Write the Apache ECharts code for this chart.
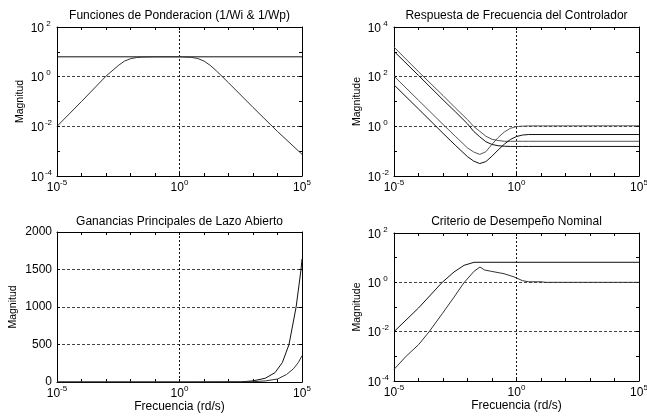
<!DOCTYPE html>
<html><head><meta charset="utf-8">
<script src="https://cdn.jsdelivr.net/npm/echarts@6/dist/echarts.min.js"></script>
<style>html,body{margin:0;padding:0;background:#fff}#c{width:647px;height:416px}</style>
</head><body><div id="c"></div>
<script>
// ---------- Titles / labels ----------
const titles = ['Funciones de Ponderacion (1/Wi & 1/Wp)', 'Respuesta de Frecuencia del Controlador',
  'Ganancias Principales de Lazo Abierto', 'Criterio de Desempeño Nominal'];
const yNames = ['Magnitud', 'Magnitude', 'Magnitud', 'Magnitude'];
const xName = 'Frecuencia (rd/s)';
const ganTicks = [0, 500, 1000, 1500, 2000];

// ---------- Panel 1: weighting functions ----------
const p1FreqWp = [1e-5, 1e5];
const p1Wp = [6.3, 6.3];
const p1FreqWi = [1e-5, 1e-4, 1e-3, 3.16e-3, 5.62e-3, 1e-2, 1.78e-2, 3.16e-2, 0.1, 1, 3.16, 5.62, 10, 17.8, 31.6, 100, 1e3, 1e4, 1e5];
const p1Wi = [0.01, 0.1, 1.05, 2.8, 4.2, 5.3, 5.9, 6.15, 6.3, 6.3, 5.96, 5.37, 4.25, 2.87, 1.74, 0.57, 0.058, 0.0062, 0.00075];

// ---------- Panel 2: controller frequency response ----------
const p2Freq = [1e-5, 1e-4, 1e-3, 3.16e-3, 1e-2, 1.78e-2, 3.16e-2, 5.62e-2, 0.1, 0.178, 0.316, 0.562, 1, 1.78, 3.16, 1e5];
const p2A = [1550, 158, 17.4, 5.6, 1.86, 1.0, 0.63, 0.4, 0.3, 0.27, 0.25, 0.25, 0.25, 0.25, 0.25, 0.25];
const p2B = [1050, 112, 11.7, 3.9, 1.26, 0.63, 0.38, 0.24, 0.186, 0.166, 0.158, 0.155, 0.155, 0.155, 0.155, 0.155];
const p2C = [105, 11.2, 1.2, 0.4, 0.135, 0.093, 0.074, 0.095, 0.19, 0.355, 0.59, 0.83, 0.98, 1.02, 1.04, 1.05];
const p2D = [46.8, 5.0, 0.525, 0.174, 0.06, 0.04, 0.0316, 0.038, 0.063, 0.112, 0.19, 0.295, 0.39, 0.447, 0.468, 0.468];

// ---------- Panel 3: principal open-loop gains ----------
const p3Freq1 = [1e-5, 1, 316, 1000, 3160, 7940, 15800, 29500, 57500, 91200, 1e5];
const p3G1 = [0, 0, 2, 15, 50, 125, 260, 500, 1000, 1500, 1640];
const p3Freq2 = [1e-5, 1, 316, 1000, 3160, 1e4, 23400, 44700, 70800, 1e5];
const p3G2 = [0, 0, 1, 4, 14, 40, 100, 176, 260, 350];

// ---------- Panel 4: nominal performance ----------
const p4FreqU = [1e-5, 1e-4, 9.3e-4, 2.82e-3, 7.24e-3, 1.86e-2, 1e5];
const p4U = [0.01, 0.091, 1.0, 2.63, 4.9, 6.5, 6.5];
const p4FreqL = [1e-5, 3.16e-5, 1e-4, 2.69e-4, 9.33e-4, 2.82e-3, 7.24e-3, 1.86e-2, 3.24e-2, 5.01e-2, 8.91e-2, 0.309, 0.794, 1.74, 3.16, 10, 15.8, 1e5];
const p4L = [2.95e-4, 1.02e-3, 2.95e-3, 9.8e-3, 0.0537, 0.251, 0.977, 2.82, 4.17, 3.16, 2.82, 2.24, 1.66, 1.17, 1.05, 1.05, 1.0, 1.0];

// ---------- helpers ----------
const FF = '"Liberation Sans", Arial, sans-serif';
const zip = (xs, ys) => xs.map((x, i) => [x, ys[i]]);
const supFmt = v => '{b|10}{s|' + Math.round(Math.log10(v)) + '}';
const richX = {
  b: {fontSize: 12, fontFamily: FF, color: '#000', verticalAlign: 'bottom', lineHeight: 12},
  s: {fontSize: 8, fontFamily: FF, color: '#000', verticalAlign: 'bottom', padding: [0, 0, 7, 0]}
};
const richY = {
  b: {fontSize: 12, fontFamily: FF, color: '#000', verticalAlign: 'bottom', lineHeight: 12},
  s: {fontSize: 8, fontFamily: FF, color: '#000', verticalAlign: 'bottom', padding: [0, 0, 7, 0], width: 9, align: 'left'}
};
const AX = {color: '#000', width: 1};
const tickIn = {show: true, inside: true, length: 3, lineStyle: {color: '#000'}};
const dashX = {show: true, lineStyle: {color: '#111', type: [2, 2], width: 1}};
const dashY = {show: true, lineStyle: {color: '#444', type: [3, 2], width: 1}};

const grids = [
  {left: 57, right: 345, top: 27, bottom: 240},
  {left: 394, right: 8, top: 27, bottom: 240},
  {left: 57, right: 345, top: 232, bottom: 34},
  {left: 394, right: 8, top: 233, bottom: 35}
].map(g => Object.assign(g, {containLabel: false, outerBoundsMode: 'none', show: false}));

const xAxis = [], yAxis = [];
function addX(gi, withName) {
  const base = {gridIndex: gi, type: 'log', logBase: 10, min: 1e-5, max: 1e5};
  const main = xAxis.length;
  xAxis.push(Object.assign({}, base, {
    interval: 5, position: 'bottom',
    axisLine: {show: true, onZero: false, lineStyle: AX}, axisTick: {show: false},
    axisLabel: {margin: 3, formatter: supFmt, rich: richX}, splitLine: dashX,
    name: withName ? xName : '', nameLocation: 'middle', nameGap: 19,
    nameTextStyle: {fontSize: 12, color: '#000', fontFamily: FF}
  }));
  xAxis.push(Object.assign({}, base, {interval: 1, position: 'bottom', axisLine: {show: false},
    axisTick: tickIn, axisLabel: {show: false}, splitLine: {show: false}}));
  xAxis.push(Object.assign({}, base, {interval: 1, position: 'top', axisLine: {show: true, onZero: false, lineStyle: AX},
    axisTick: tickIn, axisLabel: {show: false}, splitLine: {show: false}}));
  return main;
}
function addYLog(gi, min, max, name, gap) {
  const base = {gridIndex: gi, type: 'log', logBase: 10, min: min, max: max};
  const main = yAxis.length;
  yAxis.push(Object.assign({}, base, {
    interval: 2, position: 'left',
    axisLine: {show: true, onZero: false, lineStyle: AX}, axisTick: {show: false},
    axisLabel: {margin: 4, formatter: supFmt, rich: richY}, splitLine: dashY,
    name: name, nameLocation: 'middle', nameRotate: 90, nameGap: gap,
    nameTextStyle: {fontSize: 10.5, color: '#000', fontFamily: FF}
  }));
  yAxis.push(Object.assign({}, base, {interval: 1, position: 'left', axisLine: {show: false},
    axisTick: tickIn, axisLabel: {show: false}, splitLine: {show: false}}));
  yAxis.push(Object.assign({}, base, {interval: 1, position: 'right', axisLine: {show: true, onZero: false, lineStyle: AX},
    axisTick: tickIn, axisLabel: {show: false}, splitLine: {show: false}}));
  return main;
}
function addYLin(gi, name, gap) {
  const base = {gridIndex: gi, type: 'value', min: ganTicks[0], max: ganTicks[ganTicks.length - 1], interval: ganTicks[1] - ganTicks[0]};
  const main = yAxis.length;
  yAxis.push(Object.assign({}, base, {
    position: 'left', axisLine: {show: true, onZero: false, lineStyle: AX}, axisTick: tickIn,
    axisLabel: {margin: 5, fontSize: 12, color: '#000', fontFamily: FF, formatter: v => String(v)}, splitLine: dashY,
    name: name, nameLocation: 'middle', nameRotate: 90, nameGap: gap,
    nameTextStyle: {fontSize: 10.5, color: '#000', fontFamily: FF}
  }));
  yAxis.push(Object.assign({}, base, {position: 'right', axisLine: {show: true, onZero: false, lineStyle: AX},
    axisTick: tickIn, axisLabel: {show: false}, splitLine: {show: false}}));
  return main;
}

const x0 = addX(0, false), y0 = addYLog(0, 1e-4, 1e2, yNames[0], 31);
const x1 = addX(1, false), y1 = addYLog(1, 1e-2, 1e4, yNames[1], 31);
const x2 = addX(2, true),  y2 = addYLin(2, yNames[2], 38);
const x3 = addX(3, true),  y3 = addYLog(3, 1e-4, 1e2, yNames[3], 31);

function line(xi, yi, data, color) {
  return {type: 'line', xAxisIndex: xi, yAxisIndex: yi, data: data, showSymbol: false, symbol: 'none',
    clip: true, silent: true, lineStyle: {color: color || '#111', width: 1}};
}
const series = [
  line(x0, y0, zip(p1FreqWp, p1Wp)),
  line(x0, y0, zip(p1FreqWi, p1Wi), '#333'),
  line(x1, y1, zip(p2Freq, p2A), '#555'),
  line(x1, y1, zip(p2Freq, p2B), '#111'),
  line(x1, y1, zip(p2Freq, p2C), '#555'),
  line(x1, y1, zip(p2Freq, p2D), '#111'),
  line(x2, y2, zip(p3Freq1, p3G1)),
  line(x2, y2, zip(p3Freq2, p3G2), '#333'),
  line(x3, y3, zip(p4FreqU, p4U)),
  line(x3, y3, zip(p4FreqL, p4L), '#333')
];

const centers = [179.5, 516.5, 179.5, 516.5];
const tops = [10, 10, 216, 216];
const title = titles.map((t, i) => ({
  text: t, left: centers[i], top: tops[i], textAlign: 'center', padding: 0,
  textStyle: {fontSize: 12, fontWeight: 'normal', color: '#000', fontFamily: FF}
}));

const chart = echarts.init(document.getElementById('c'), null, {renderer: 'canvas'});
chart.setOption({
  animation: false, backgroundColor: '#fff',
  title: title, grid: grids, xAxis: xAxis, yAxis: yAxis, series: series
});
</script></body></html>
